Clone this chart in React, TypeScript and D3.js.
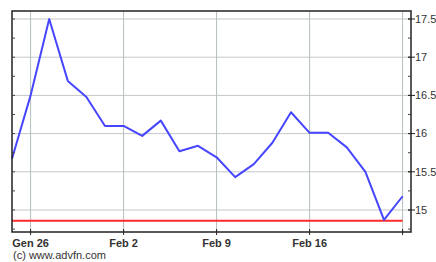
import React from 'react';
import * as d3 from 'd3';

// closing prices, one per trading day (Jan 23 .. Feb 23)
const prices = [15.67, 16.5, 17.5, 16.69, 16.48, 16.1, 16.1, 15.97, 16.17, 15.77, 15.84,
    15.69, 15.43, 15.6, 15.88, 16.28, 16.01, 16.01, 15.82, 15.5, 14.87, 15.18];
const refLevel = [14.86];
const dateTicks = [1, 6, 11, 16, 21];
const dateLabels = ['Gen 26', 'Feb 2', 'Feb 9', 'Feb 16', ''];
const priceTicks = [15, 15.5, 16, 16.5, 17, 17.5];
const priceLabels = ['15', '15.5', '16', '16.5', '17', '17.5'];

export default function App() {

    const width = 436;
    const height = 262;
    const left = 12, right = 411, top = 11, bottom = 232;

    const x = d3.scaleLinear().domain([0, prices.length - 1]).range([12, 402.6]);
    const y = d3.scaleLinear().domain([15, 17.5]).range([210, 19]);

    const line = d3.line<number>()
        .x((d, i) => x(i))
        .y(d => y(d));

    // quarter ticks along the side borders
    const minor = d3.range(14.75, 17.6, 0.25).filter(v => y(v) > top && y(v) < bottom);

    const font = "'Liberation Sans', Arial, sans-serif";

    return <svg width={width} height={height}
        style={{ position: 'fixed', left: 0, top: 0, background: '#fff' }}>

        {/* grid */}
        {priceTicks.map(v =>
            <line key={'h' + v} x1={left} x2={right} y1={y(v)} y2={y(v)} stroke="#c4c8c8" strokeWidth={1} />
        )}
        {dateTicks.map(i =>
            <line key={'v' + i} x1={x(i)} x2={x(i)} y1={top} y2={bottom} stroke="#b4bcbc" strokeWidth={1} />
        )}

        {/* reference level */}
        <line x1={x(0)} x2={x(prices.length - 1)} y1={y(refLevel[0])} y2={y(refLevel[0])}
            stroke="#ff2a2a" strokeWidth={2} />

        {/* price line */}
        <path d={line(prices) || ''} fill="none" stroke="#4646ff" strokeWidth={2} strokeLinejoin="round" />

        {/* frame */}
        <rect x={left} y={top} width={right - left} height={bottom - top} fill="none" stroke="#222" strokeWidth={1.5} />

        {minor.map(v =>
            <g key={'m' + v}>
                <line x1={left} x2={left + 3} y1={y(v)} y2={y(v)} stroke="#444" />
                <line x1={right - 3} x2={right} y1={y(v)} y2={y(v)} stroke="#444" />
            </g>
        )}
        {priceTicks.map(v =>
            <line key={'t' + v} x1={right - 3} x2={right + 4} y1={y(v)} y2={y(v)} stroke="#222" />
        )}
        {dateTicks.map(i =>
            <line key={'bt' + i} x1={x(i)} x2={x(i)} y1={bottom - 3} y2={bottom + 3} stroke="#222" />
        )}

        {/* right axis labels */}
        {priceTicks.map((v, k) =>
            <text key={'l' + v} x={415} y={y(v)} dy="0.35em" fontFamily={font} fontSize={11} fill="#333">
                {priceLabels[k]}
            </text>
        )}

        {/* date labels */}
        {dateTicks.map((i, k) =>
            <text key={'d' + i} x={x(i)} y={247} textAnchor="middle" fontFamily={font} fontSize={11}
                fontWeight={600} fill="#333">
                {dateLabels[k]}
            </text>
        )}

        <text x={13} y={259} fontFamily={font} fontSize={11} fill="#333">(c) www.advfn.com</text>
    </svg>
}
